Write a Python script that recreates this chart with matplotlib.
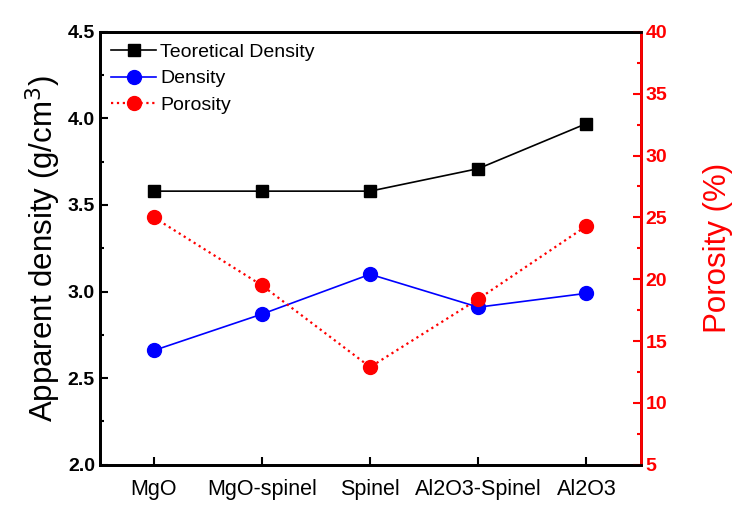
import matplotlib.pyplot as plt
from matplotlib.ticker import MultipleLocator

plt.rcParams['font.family'] = ['Liberation Sans', 'DejaVu Sans']

samples = ["MgO", "MgO-spinel", "Spinel", "Al2O3-Spinel", "Al2O3"]
theoretical = [3.58, 3.58, 3.58, 3.71, 3.97]
density = [2.66, 2.87, 3.10, 2.91, 2.99]
porosity = [25.0, 19.5, 12.9, 18.4, 24.3]

fig = plt.figure(figsize=(7.5, 5.13), dpi=100)
ax = fig.add_axes([0.133, 0.094, 0.721, 0.844])
bx = ax.twinx()

x = list(range(len(samples)))
l1, = ax.plot(x, theoretical, 'k-s', markersize=9, linewidth=1.2, label="Teoretical Density")
l2, = ax.plot(x, density, '-o', color='blue', markersize=10, linewidth=1.2, label="Density")
l3, = bx.plot(x, porosity, ':o', color='red', markersize=10, linewidth=1.6, label="Porosity")

ax.set_xlim(-0.5, 4.5)
ax.set_ylim(2.0, 4.5)
bx.set_ylim(5, 40)

ax.set_xticks(x)
ax.set_xticklabels(samples, fontsize=15.5)
ax.yaxis.set_major_locator(MultipleLocator(0.5))
ax.yaxis.set_minor_locator(MultipleLocator(0.25))
bx.yaxis.set_major_locator(MultipleLocator(5))
bx.yaxis.set_minor_locator(MultipleLocator(2.5))

ax.tick_params(axis='x', direction='in', length=6, width=1.5, pad=10)
ax.tick_params(axis='y', which='major', direction='in', length=6, width=1.5, labelsize=14)
ax.tick_params(axis='y', which='minor', direction='in', length=3, width=1.5)
bx.tick_params(axis='y', which='major', direction='in', length=6, width=1.5,
               labelsize=14, colors='red')
bx.tick_params(axis='y', which='minor', direction='in', length=3, width=1.5, colors='red')
for lab in ax.get_yticklabels() + bx.get_yticklabels():
    lab.set_fontweight('bold')

for s in ax.spines.values():
    s.set_linewidth(2)
for s in bx.spines.values():
    s.set_linewidth(2)
bx.spines['right'].set_color('red')

ax.set_ylabel("Apparent density (g/cm$^3$)", fontsize=22.5, labelpad=3)
bx.set_ylabel("Porosity (%)", fontsize=22.5, color='red', labelpad=26)

ax.legend([l1, l2, l3], ["Teoretical Density", "Density", "Porosity"],
          loc='upper left', frameon=False, fontsize=14, handlelength=2.3,
          borderaxespad=0.2, handletextpad=0.2, labelspacing=0.45)

fig.savefig("out.png", dpi=100)
